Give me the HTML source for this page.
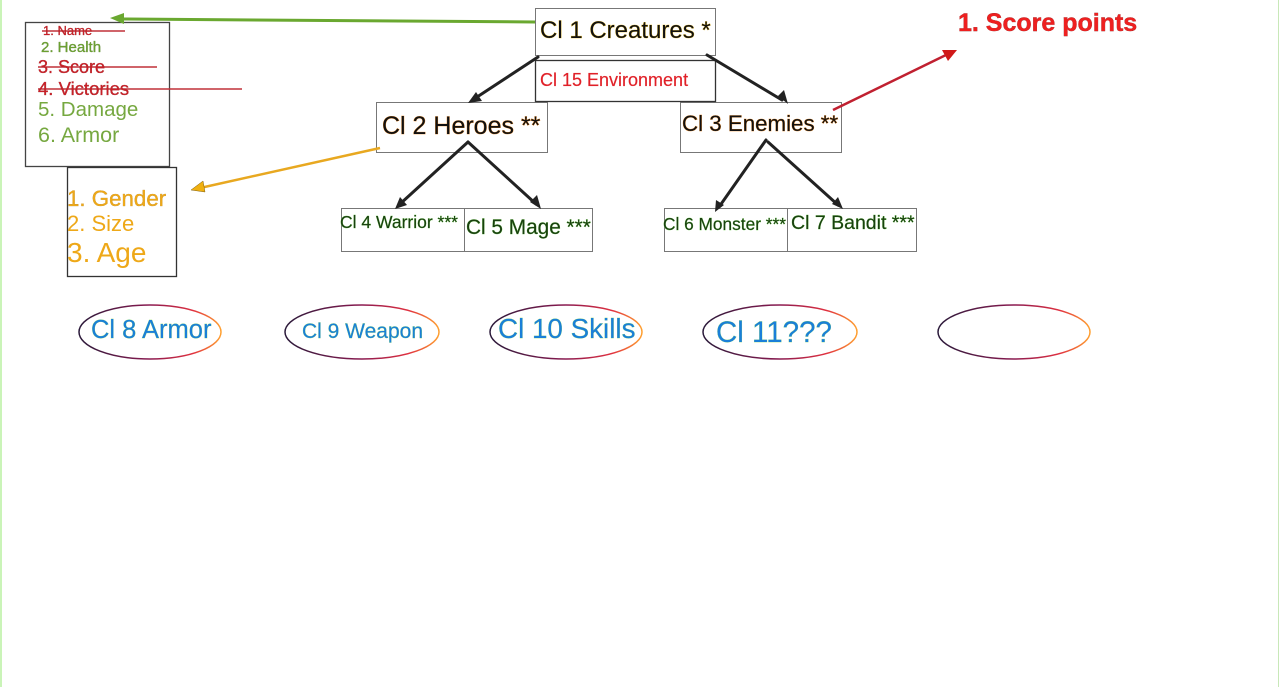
<!DOCTYPE html>
<html><head><meta charset="utf-8"><style>
html,body{margin:0;padding:0;background:#fff;width:1280px;height:687px;overflow:hidden}
svg{display:block}
text{font-family:"Liberation Sans",sans-serif;paint-order:stroke}
</style></head><body>
<svg width="1280" height="687" viewBox="0 0 1280 687" xmlns="http://www.w3.org/2000/svg">
<defs>
<linearGradient id="eg" x1="0" y1="0" x2="1" y2="0">
<stop offset="0" stop-color="#2a1a3a"/><stop offset="0.5" stop-color="#8a1a50"/><stop offset="0.8" stop-color="#e03040"/><stop offset="1" stop-color="#ffa030"/>
</linearGradient>
</defs>
<line x1="1" y1="0" x2="1" y2="687" stroke="#b8f0a0" stroke-width="1.5"/>
<line x1="1278.5" y1="0" x2="1278.5" y2="687" stroke="#c8e8b8" stroke-width="1"/>

<g fill="#fff" stroke="#777" stroke-width="1">
<rect x="535.5" y="8.5" width="180" height="47"/>
<rect x="376.5" y="102.5" width="171" height="50"/>
<rect x="680.5" y="102.5" width="161" height="50"/>
<rect x="341.5" y="208.5" width="123" height="43"/>
<rect x="464.5" y="208.5" width="128" height="43"/>
<rect x="664.5" y="208.5" width="123" height="43"/>
<rect x="787.5" y="208.5" width="129" height="43"/>
</g>
<rect x="535.5" y="60.5" width="180" height="41" fill="#fff" stroke="#333" stroke-width="1.3"/>
<rect x="25.5" y="22.5" width="144" height="144" fill="#fff" stroke="#444" stroke-width="1.3"/>
<rect x="67.5" y="167.5" width="109" height="109" fill="#fff" stroke="#333" stroke-width="1.3"/>

<g stroke="#222" stroke-width="3" fill="none" stroke-linecap="round">
<line x1="538" y1="57" x2="474" y2="99"/>
<line x1="707" y1="55" x2="782" y2="100"/>
<line x1="468" y1="142" x2="400" y2="204"/>
<line x1="468" y1="142" x2="536" y2="204"/>
<line x1="766" y1="140" x2="719" y2="207"/>
<line x1="768" y1="142" x2="838" y2="205"/>
</g>
<g fill="#222">
<polygon points="468,103 476,92 482,101"/>
<polygon points="788,104 778,96 784,90"/>
<polygon points="395,209 400,197 407,205"/>
<polygon points="541,209 530,202 537,195"/>
<polygon points="715,212 716,200 724,205"/>
<polygon points="843,209 832,204 838,197"/>
</g>

<line x1="535" y1="22" x2="120" y2="19" stroke="#6aa830" stroke-width="3"/>
<polygon points="110,18 124,13 124,24" fill="#6aa830"/>
<line x1="380" y1="148" x2="200" y2="188" stroke="#e8a820" stroke-width="2.5"/>
<polygon points="191,190 203,181 205,192" fill="#f0b010" stroke="#806010" stroke-width="0.5"/>
<line x1="833" y1="110" x2="948" y2="54" stroke="#c02030" stroke-width="2.5"/>
<polygon points="957,50 942,50 948,61" fill="#d01818"/>

<g stroke="#c03038" stroke-width="1.5">
<line x1="42" y1="31" x2="125" y2="31"/>
<line x1="38" y1="67" x2="157" y2="67"/>
<line x1="38" y1="89" x2="242" y2="89"/>
</g>

<g>
<text x="43" y="35" font-size="13" fill="#c82028" stroke="#8a2020" stroke-width="0.3">1. Name</text>
<text x="41" y="52" font-size="15" fill="#6ba030" stroke="#4a7020" stroke-width="0.3">2. Health</text>
<text x="38" y="73" font-size="18" fill="#c82028" stroke="#8a2020" stroke-width="0.3">3. Score</text>
<text x="38" y="95" font-size="18.5" fill="#c82028" stroke="#8a2020" stroke-width="0.3">4. Victories</text>
<text x="38" y="116" font-size="20.5" fill="#76a840">5. Damage</text>
<text x="38" y="142" font-size="21.5" fill="#76a840">6. Armor</text>
<text x="67" y="206" font-size="22.3" fill="#eea818" stroke="#a07010" stroke-width="0.3">1. Gender</text>
<text x="67" y="231" font-size="22" fill="#eea818">2. Size</text>
<text x="67" y="262" font-size="28" fill="#eea818">3. Age</text>
</g>

<text x="540" y="38" font-size="24" fill="#111" stroke="#f0c020" stroke-width="0.6">Cl 1 Creatures *</text>
<text x="540" y="86" font-size="18" fill="#e02028" stroke="#f08080" stroke-width="0.3">Cl 15 Environment</text>
<text x="382" y="134" font-size="25" fill="#111" stroke="#f08a20" stroke-width="0.6">Cl 2 Heroes **</text>
<text x="682" y="131" font-size="22.3" fill="#111" stroke="#f08a20" stroke-width="0.6">Cl 3 Enemies **</text>
<g fill="#1a4010" stroke="#70d050" stroke-width="0.4">
<text x="340" y="228" font-size="17.5">Cl 4 Warrior ***</text>
<text x="466" y="234" font-size="20.8">Cl 5 Mage ***</text>
<text x="663" y="230" font-size="17.3">Cl 6 Monster ***</text>
<text x="791" y="229" font-size="19.5">Cl 7 Bandit ***</text>
</g>
<text x="958" y="31" font-size="25" font-weight="bold" fill="#ee2020" stroke="#801818" stroke-width="0.4">1. Score points</text>

<g fill="none" stroke="url(#eg)" stroke-width="1.5">
<ellipse cx="150" cy="332" rx="71" ry="27"/>
<ellipse cx="362" cy="332" rx="77" ry="27"/>
<ellipse cx="566" cy="332" rx="76" ry="27"/>
<ellipse cx="780" cy="332" rx="77" ry="27"/>
<ellipse cx="1014" cy="332" rx="76" ry="27"/>
</g>
<g fill="#1a7fd8" stroke="#90e060" stroke-width="0.4">
<text x="91" y="338" font-size="25.5">Cl 8 Armor</text>
<text x="302" y="338" font-size="21">Cl 9 Weapon</text>
<text x="498" y="338" font-size="27.8">Cl 10 Skills</text>
<text x="716" y="342" font-size="29.5">Cl 11???</text>
</g>
</svg>
</body></html>
